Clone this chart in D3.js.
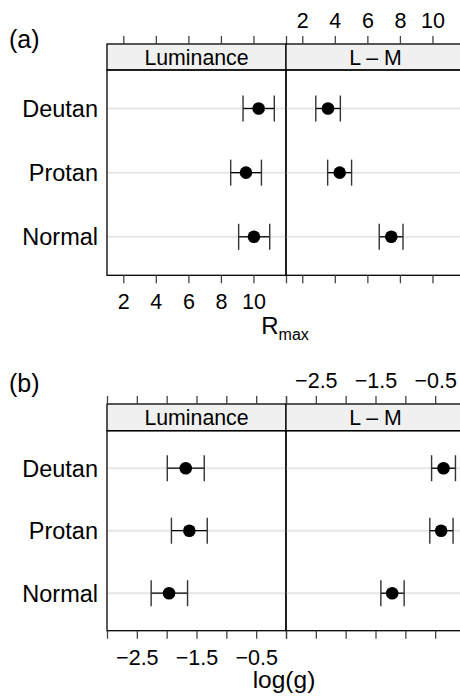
<!DOCTYPE html>
<html>
<head>
<meta charset="utf-8">
<script src="https://cdn.jsdelivr.net/npm/d3@7"></script>
<style>
  html, body { margin: 0; padding: 0; background: #fff; }
  svg { display: block; font-family: "Liberation Sans", Arial, Helvetica, sans-serif; }
</style>
</head>
<body>
<svg id="chart" width="460" height="698"></svg>
<script>
// groups, bottom to top
const groups = ["Normal", "Protan", "Deutan"];
const panels = ["Luminance", "L \u2013 M"];

// (a) Rmax: point estimate and interval
const rmaxLum   = [10.03, 9.54, 10.32];
const rmaxLumLo = [9.09, 8.60, 9.36];
const rmaxLumHi = [11.00, 10.49, 11.28];
const rmaxLM    = [7.47, 4.30, 3.58];
const rmaxLMLo  = [6.73, 3.56, 2.83];
const rmaxLMHi  = [8.19, 5.03, 4.34];

// (b) log(g)
const loggLum   = [-1.96, -1.62, -1.68];
const loggLumLo = [-2.26, -1.92, -1.99];
const loggLumHi = [-1.65, -1.32, -1.37];
const loggLM    = [-1.22, -0.40, -0.36];
const loggLMLo  = [-1.41, -0.59, -0.56];
const loggLMHi  = [-1.02, -0.20, -0.16];

const rmaxTicks = [2, 4, 6, 8, 10, 12];
const rmaxLabels = [2, 4, 6, 8, 10];
const loggTicks = [-3, -2.5, -2, -1.5, -1, -0.5, 0];
const loggLabels = [-2.5, -1.5, -0.5];

const svg = d3.select("#chart");
const left = 107, panelW = 179;

function drawBlock(opt) {
  const x = d3.scaleLinear().domain(opt.domain).range([0, panelW]);
  const y = d3.scaleLinear().domain([0.4, 3.6]).range([opt.bodyBottom - opt.bodyTop, 0]);
  const bodyH = opt.bodyBottom - opt.bodyTop;
  const fmt = opt.format;

  panels.forEach((name, p) => {
    const g = svg.append("g").attr("transform", `translate(${left + p * panelW},0)`);
    const body = g.append("g").attr("transform", `translate(0,${opt.bodyTop})`);

    // reference lines
    body.selectAll("line.grid").data(groups).enter().append("line")
      .attr("x1", 0).attr("x2", panelW)
      .attr("y1", (d, i) => y(i + 1)).attr("y2", (d, i) => y(i + 1))
      .attr("stroke", "#e6e6e6").attr("stroke-width", 2);

    const pts = opt.data[p];
    const rows = groups.map((grp, i) => ({i, v: pts[0][i], lo: pts[1][i], hi: pts[2][i]}));
    const eb = body.selectAll("g.eb").data(rows).enter().append("g")
      .attr("transform", d => `translate(0,${y(d.i + 1)})`);
    eb.append("line").attr("x1", d => x(d.lo)).attr("x2", d => x(d.hi))
      .attr("stroke", "#000").attr("stroke-width", 1.3);
    eb.append("line").attr("x1", d => x(d.lo)).attr("x2", d => x(d.lo))
      .attr("y1", -13).attr("y2", 13).attr("stroke", "#333").attr("stroke-width", 1.4);
    eb.append("line").attr("x1", d => x(d.hi)).attr("x2", d => x(d.hi))
      .attr("y1", -13).attr("y2", 13).attr("stroke", "#333").attr("stroke-width", 1.4);
    eb.append("circle").attr("cx", d => x(d.v)).attr("r", 6.3).attr("fill", "#000");

    // strip
    g.append("rect").attr("x", 0).attr("y", opt.stripTop)
      .attr("width", panelW).attr("height", opt.bodyTop - opt.stripTop)
      .attr("fill", "#f0f0f0").attr("stroke", "#000").attr("stroke-width", 1.3);
    g.append("text").attr("x", panelW / 2).attr("y", opt.stripTop + 20.5)
      .attr("text-anchor", "middle").attr("font-size", 21.3).text(name);

    // panel border
    g.append("rect").attr("x", 0).attr("y", opt.bodyTop)
      .attr("width", panelW).attr("height", bodyH)
      .attr("fill", "none").attr("stroke", "#000").attr("stroke-width", 1.3);

    // axes: labels alternate, bottom for first panel, top for second
    const top = d3.axisTop(x).tickValues(opt.ticks).tickSize(8).tickSizeOuter(0)
      .tickFormat(d => (p === 1 && opt.labels.includes(d)) ? fmt(d) : "");
    const bot = d3.axisBottom(x).tickValues(opt.ticks).tickSize(8).tickSizeOuter(0)
      .tickFormat(d => (p === 0 && opt.labels.includes(d)) ? fmt(d) : "");
    [[top, opt.stripTop], [bot, opt.bodyBottom]].forEach(([ax, yy]) => {
      const a = g.append("g").attr("transform", `translate(0,${yy})`).call(ax);
      a.select(".domain").remove();
      a.selectAll(".tick line").attr("stroke", "#444").attr("stroke-width", 1.3);
      a.selectAll(".tick text").attr("font-size", 21.5).attr("fill", "#000")
        .attr("font-family", "Liberation Sans, Arial, sans-serif");
    });
  });

  // tick label positions
  svg.selectAll(".tick text").attr("dy", null);

  // group labels
  groups.forEach((grp, i) => {
    svg.append("text").attr("x", 98).attr("y", opt.bodyTop + y(i + 1) + 8.5)
      .attr("text-anchor", "end").attr("font-size", 23.5).text(grp);
  });

  // block tag
  svg.append("text").attr("x", 9).attr("y", opt.tagY)
    .attr("font-size", 25).text(opt.tag);
}

drawBlock({
  tag: "(a)", tagY: 47.5,
  domain: [1, 12], ticks: rmaxTicks, labels: rmaxLabels, format: d3.format("d"),
  stripTop: 44, bodyTop: 70, bodyBottom: 275.3,
  data: [[rmaxLum, rmaxLumLo, rmaxLumHi], [rmaxLM, rmaxLMLo, rmaxLMHi]]
});
drawBlock({
  tag: "(b)", tagY: 392,
  domain: [-3, 0], ticks: loggTicks, labels: loggLabels, format: d3.format(".1f"),
  stripTop: 404, bodyTop: 430.7, bodyBottom: 630.7,
  data: [[loggLum, loggLumLo, loggLumHi], [loggLM, loggLMLo, loggLMHi]]
});

// place tick labels by baseline
svg.selectAll("g.tick text").each(function () {
  const t = d3.select(this);
  const parent = d3.select(this.parentNode.parentNode);
  const tr = parent.attr("transform");
  const yy = +tr.match(/translate\(0,([\d.]+)\)/)[1];
  const isTop = (yy === 44 || yy === 404);
  t.attr("y", isTop ? -16 : 34);
});

// axis titles
const rt = svg.append("text").attr("x", 285).attr("y", 334)
  .attr("text-anchor", "middle").attr("font-size", 24);
rt.append("tspan").text("R");
rt.append("tspan").attr("font-size", 16).attr("dy", 6).text("max");

svg.append("text").attr("x", 284).attr("y", 688)
  .attr("text-anchor", "middle").attr("font-size", 24.5).text("log(g)");
</script>
</body>
</html>
